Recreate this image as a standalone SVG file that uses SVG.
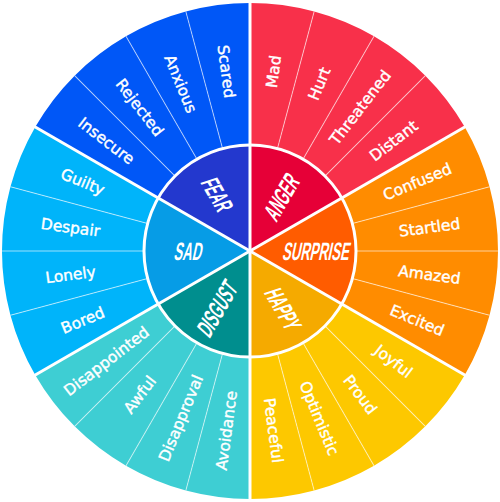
<svg xmlns="http://www.w3.org/2000/svg" xmlns:xlink="http://www.w3.org/1999/xlink" width="500" height="502" viewBox="0 0 500 502">
<style>
.o-anger{fill:#F8304A}.i-anger{fill:#E60037}
.o-surprise{fill:#FF8C00}.i-surprise{fill:#FF5C00}
.o-happy{fill:#FDC800}.i-happy{fill:#F5AA00}
.o-disgust{fill:#3ECED3}.i-disgust{fill:#008E8E}
.o-sad{fill:#00B4FA}.i-sad{fill:#069CE6}
.o-fear{fill:#0057F7}.i-fear{fill:#2338CE}
.lbl{font-family:"DejaVu Sans","Liberation Sans",sans-serif;font-size:15.5px;fill:#fff;stroke:#fff;stroke-width:0.4;text-anchor:middle}
.core{font-family:"Liberation Sans",Arial,sans-serif;font-weight:bold;font-size:25px;fill:#fff;text-anchor:middle}
.major{stroke:#fff;stroke-width:3;fill:none}
.minor{stroke:#fff;stroke-opacity:0.6;stroke-width:1;fill:none}
</style>
<defs>
<path id="seg" d="M250 3 A248 248 0 0 1 314.187 11.449 L277.435 148.611 A106 106 0 0 0 250 145 Z"/>
<path id="wedge" d="M250 251 L250 145 A106 106 0 0 1 341.799 198 Z"/>
</defs>

<g id="anger-outer">
<g id="mad"><use xlink:href="#seg" class="o-anger"/><text class="lbl" x="431" y="251" dy="0.35em" transform="rotate(-82.5 250 251)">Mad</text></g>
<g id="hurt"><use xlink:href="#seg" class="o-anger" transform="rotate(15 250 251)"/><text class="lbl" x="431" y="251" dy="0.35em" transform="rotate(-67.5 250 251)">Hurt</text></g>
<g id="threatened"><use xlink:href="#seg" class="o-anger" transform="rotate(30 250 251)"/><text class="lbl" x="431" y="251" dy="0.35em" transform="rotate(-52.5 250 251)">Threatened</text></g>
<g id="distant"><use xlink:href="#seg" class="o-anger" transform="rotate(45 250 251)"/><text class="lbl" x="431" y="251" dy="0.35em" transform="rotate(-37.5 250 251)">Distant</text></g>
</g>
<g id="surprise-outer">
<g id="confused"><use xlink:href="#seg" class="o-surprise" transform="rotate(60 250 251)"/><text class="lbl" x="431" y="251" dy="0.35em" transform="rotate(-22.5 250 251)">Confused</text></g>
<g id="startled"><use xlink:href="#seg" class="o-surprise" transform="rotate(75 250 251)"/><text class="lbl" x="431" y="251" dy="0.35em" transform="rotate(-7.5 250 251)">Startled</text></g>
<g id="amazed"><use xlink:href="#seg" class="o-surprise" transform="rotate(90 250 251)"/><text class="lbl" x="431" y="251" dy="0.35em" transform="rotate(7.5 250 251)">Amazed</text></g>
<g id="excited"><use xlink:href="#seg" class="o-surprise" transform="rotate(105 250 251)"/><text class="lbl" x="431" y="251" dy="0.35em" transform="rotate(22.5 250 251)">Excited</text></g>
</g>
<g id="happy-outer">
<g id="joyful"><use xlink:href="#seg" class="o-happy" transform="rotate(120 250 251)"/><text class="lbl" x="431" y="251" dy="0.35em" transform="rotate(37.5 250 251)">Joyful</text></g>
<g id="proud"><use xlink:href="#seg" class="o-happy" transform="rotate(135 250 251)"/><text class="lbl" x="431" y="251" dy="0.35em" transform="rotate(52.5 250 251)">Proud</text></g>
<g id="optimistic"><use xlink:href="#seg" class="o-happy" transform="rotate(150 250 251)"/><text class="lbl" x="431" y="251" dy="0.35em" transform="rotate(67.5 250 251)">Optimistic</text></g>
<g id="peaceful"><use xlink:href="#seg" class="o-happy" transform="rotate(165 250 251)"/><text class="lbl" x="431" y="251" dy="0.35em" transform="rotate(82.5 250 251)">Peaceful</text></g>
</g>
<g id="disgust-outer">
<g id="avoidance"><use xlink:href="#seg" class="o-disgust" transform="rotate(180 250 251)"/><text class="lbl" x="431" y="251" dy="0.35em" transform="rotate(97.5 250 251) rotate(180 431 251)">Avoidance</text></g>
<g id="disapproval"><use xlink:href="#seg" class="o-disgust" transform="rotate(195 250 251)"/><text class="lbl" x="431" y="251" dy="0.35em" transform="rotate(112.5 250 251) rotate(180 431 251)">Disapproval</text></g>
<g id="awful"><use xlink:href="#seg" class="o-disgust" transform="rotate(210 250 251)"/><text class="lbl" x="431" y="251" dy="0.35em" transform="rotate(127.5 250 251) rotate(180 431 251)">Awful</text></g>
<g id="disappointed"><use xlink:href="#seg" class="o-disgust" transform="rotate(225 250 251)"/><text class="lbl" x="431" y="251" dy="0.35em" transform="rotate(142.5 250 251) rotate(180 431 251)">Disappointed</text></g>
</g>
<g id="sad-outer">
<g id="bored"><use xlink:href="#seg" class="o-sad" transform="rotate(240 250 251)"/><text class="lbl" x="431" y="251" dy="0.35em" transform="rotate(157.5 250 251) rotate(180 431 251)">Bored</text></g>
<g id="lonely"><use xlink:href="#seg" class="o-sad" transform="rotate(255 250 251)"/><text class="lbl" x="431" y="251" dy="0.35em" transform="rotate(172.5 250 251) rotate(180 431 251)">Lonely</text></g>
<g id="despair"><use xlink:href="#seg" class="o-sad" transform="rotate(270 250 251)"/><text class="lbl" x="431" y="251" dy="0.35em" transform="rotate(187.5 250 251) rotate(180 431 251)">Despair</text></g>
<g id="guilty"><use xlink:href="#seg" class="o-sad" transform="rotate(285 250 251)"/><text class="lbl" x="431" y="251" dy="0.35em" transform="rotate(202.5 250 251) rotate(180 431 251)">Guilty</text></g>
</g>
<g id="fear-outer">
<g id="insecure"><use xlink:href="#seg" class="o-fear" transform="rotate(300 250 251)"/><text class="lbl" x="431" y="251" dy="0.35em" transform="rotate(217.5 250 251) rotate(180 431 251)">Insecure</text></g>
<g id="rejected"><use xlink:href="#seg" class="o-fear" transform="rotate(315 250 251)"/><text class="lbl" x="431" y="251" dy="0.35em" transform="rotate(232.5 250 251) rotate(180 431 251)">Rejected</text></g>
<g id="anxious"><use xlink:href="#seg" class="o-fear" transform="rotate(330 250 251)"/><text class="lbl" x="431" y="251" dy="0.35em" transform="rotate(247.5 250 251) rotate(180 431 251)">Anxious</text></g>
<g id="scared"><use xlink:href="#seg" class="o-fear" transform="rotate(345 250 251)"/><text class="lbl" x="431" y="251" dy="0.35em" transform="rotate(262.5 250 251) rotate(180 431 251)">Scared</text></g>
</g>

<g id="anger"><use xlink:href="#wedge" class="i-anger"/><text class="core" dy="9" transform="rotate(-60 250 251) translate(313 251) skewX(-12) scale(0.52 1)">ANGER</text></g>
<g id="surprise"><use xlink:href="#wedge" class="i-surprise" transform="rotate(60 250 251)"/><text class="core" dy="9" transform="translate(317 251) skewX(-12) scale(0.52 1)">SURPRISE</text></g>
<g id="happy"><use xlink:href="#wedge" class="i-happy" transform="rotate(120 250 251)"/><text class="core" dy="9" transform="rotate(60 250 251) translate(317 251) skewX(-12) scale(0.52 1)">HAPPY</text></g>
<g id="disgust"><use xlink:href="#wedge" class="i-disgust" transform="rotate(180 250 251)"/><text class="core" dy="9" transform="rotate(-60 250 251) translate(184 251) skewX(-12) scale(0.52 1)">DISGUST</text></g>
<g id="sad"><use xlink:href="#wedge" class="i-sad" transform="rotate(240 250 251)"/><text class="core" dy="9" transform="translate(189 251) skewX(-12) scale(0.52 1)">SAD</text></g>
<g id="fear"><use xlink:href="#wedge" class="i-fear" transform="rotate(300 250 251)"/><text class="core" dy="9" transform="rotate(60 250 251) translate(185 251) skewX(-12) scale(0.52 1)">FEAR</text></g>

<g id="connectors">
<g class="minor">
<line x1="356" y1="251" x2="498" y2="251" transform="rotate(-75 250 251)"/>
<line x1="356" y1="251" x2="498" y2="251" transform="rotate(-60 250 251)"/>
<line x1="356" y1="251" x2="498" y2="251" transform="rotate(-45 250 251)"/>
<line x1="356" y1="251" x2="498" y2="251" transform="rotate(-15 250 251)"/>
<line x1="356" y1="251" x2="498" y2="251"/>
<line x1="356" y1="251" x2="498" y2="251" transform="rotate(15 250 251)"/>
<line x1="356" y1="251" x2="498" y2="251" transform="rotate(45 250 251)"/>
<line x1="356" y1="251" x2="498" y2="251" transform="rotate(60 250 251)"/>
<line x1="356" y1="251" x2="498" y2="251" transform="rotate(75 250 251)"/>
<line x1="356" y1="251" x2="498" y2="251" transform="rotate(105 250 251)"/>
<line x1="356" y1="251" x2="498" y2="251" transform="rotate(120 250 251)"/>
<line x1="356" y1="251" x2="498" y2="251" transform="rotate(135 250 251)"/>
<line x1="356" y1="251" x2="498" y2="251" transform="rotate(165 250 251)"/>
<line x1="356" y1="251" x2="498" y2="251" transform="rotate(180 250 251)"/>
<line x1="356" y1="251" x2="498" y2="251" transform="rotate(195 250 251)"/>
<line x1="356" y1="251" x2="498" y2="251" transform="rotate(225 250 251)"/>
<line x1="356" y1="251" x2="498" y2="251" transform="rotate(240 250 251)"/>
<line x1="356" y1="251" x2="498" y2="251" transform="rotate(255 250 251)"/>
</g>
<g class="major">
<line x1="250" y1="251" x2="499" y2="251" transform="rotate(-90 250 251)"/>
<line x1="250" y1="251" x2="499" y2="251" transform="rotate(-30 250 251)"/>
<line x1="250" y1="251" x2="499" y2="251" transform="rotate(30 250 251)"/>
<line x1="250" y1="251" x2="499" y2="251" transform="rotate(90 250 251)"/>
<line x1="250" y1="251" x2="499" y2="251" transform="rotate(150 250 251)"/>
<line x1="250" y1="251" x2="499" y2="251" transform="rotate(210 250 251)"/>
<circle cx="250" cy="251" r="106"/>
</g>
</g>
</svg>
